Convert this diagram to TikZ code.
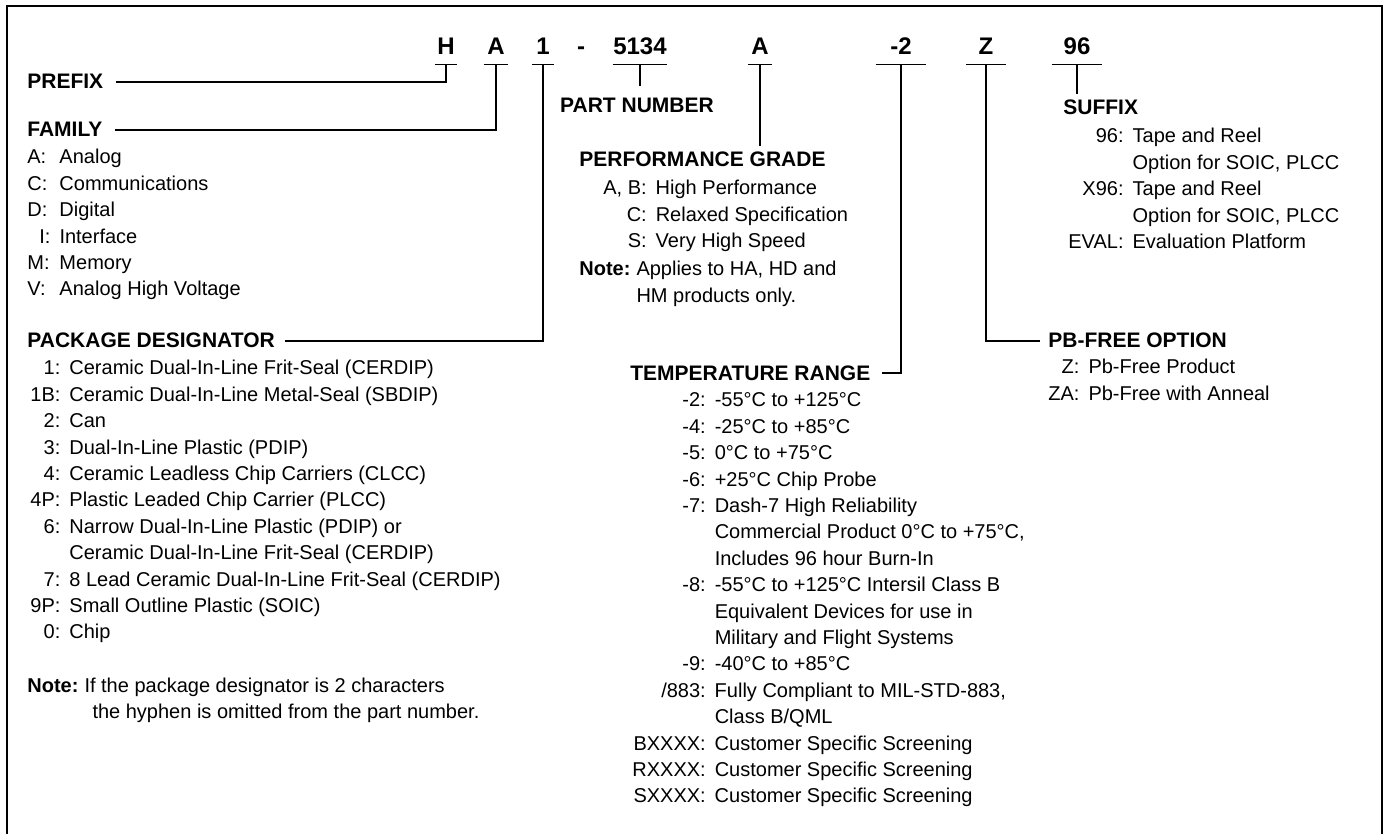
\documentclass[tikz,border=0pt]{standalone}
\usepackage{fontspec}
\setmainfont{Liberation Sans}

\begin{document}
\begin{tikzpicture}[x=0.5pt,y=-0.5pt,
  every node/.style={inner sep=0pt},
  frame/.style={line width=1.1pt},
  lead/.style={line width=0.85pt},
  code/.style={font=\fontsize{12}{14}\selectfont\bfseries,anchor=base,
    inner ysep=4.5pt,text depth=0pt},
  head/.style={font=\fontsize{10.5}{13}\selectfont\bfseries,anchor=base west},
  list/.style={font=\fontsize{10}{13.2}\selectfont,anchor=base west}]
\useasboundingbox (0,0) rectangle (1388,834);
\draw[frame] (7,834) -- (7,6) -- (1382,6) -- (1382,834);

% ordering code
\node[code,minimum width=11pt] (cH) at (446,55) {H};
\node[code,minimum width=12pt] (cA) at (496,55) {A};
\node[code,minimum width=10.5pt] (c1) at (543,55) {1};
\node[code] (cDash) at (581,55) {-};
\node[code,minimum width=27pt] (cNum) at (640,55) {5134};
\node[code,minimum width=11.5pt] (cGrade) at (760,55) {A};
\node[code,minimum width=25pt] (cTemp) at (901,55) {-2};
\node[code,minimum width=19.5pt] (cZ) at (986,55) {Z};
\node[code,minimum width=25pt] (cSfx) at (1077,55) {96};
\foreach \c in {cH,cA,c1,cNum,cGrade,cTemp,cZ,cSfx}
  \draw[lead] (\c.south west) -- (\c.south east);

% headings
\node[head] (prefix) at (27,89) {PREFIX};
\node[head] (family) at (27,137) {FAMILY};
\node[head] (pkg) at (27,348) {PACKAGE DESIGNATOR};
\node[head,anchor=base] (partnum) at (637,113) {PART NUMBER};
\node[head] (perf) at (579,167) {PERFORMANCE GRADE};
\node[head] (temp) at (630,380) {TEMPERATURE RANGE};
\node[head] (suffix) at (1063,115) {SUFFIX};
\node[head] (pbfree) at (1048,348) {PB-FREE OPTION};

% leaders
\draw[lead] ([xshift=6pt]prefix.east) -| (cH.south);
\draw[lead] ([xshift=6pt]family.east) -| (cA.south);
\draw[lead] ([xshift=5pt]pkg.east) -| (c1.south);
\draw[lead] (cNum.south) -- ([yshift=6pt]cNum.south |- partnum.north);
\draw[lead] (cGrade.south) -- ([yshift=3pt]cGrade.south |- perf.north);
\draw[lead] ([xshift=5.5pt]temp.east) -| (cTemp.south);
\draw[lead] (cZ.south) |- ([xshift=-4pt]pbfree.west);
\draw[lead] (cSfx.south) -- ([yshift=3pt]cSfx.south |- suffix.north);

% lists
\node[list] (famlist) at (27,164) {\begin{tabular}[t]{@{}l@{\hspace{4.5pt}}l@{}}
A: & Analog\\
C: & Communications\\
D: & Digital\\
\hspace*{6pt}I: & Interface\\
M: & Memory\\
V: & Analog High Voltage
\end{tabular}};
\node[list] (pkglist) at (30,375) {\begin{tabular}[t]{@{}r@{\hspace{4.5pt}}l@{}}
1: & Ceramic Dual-In-Line Frit-Seal (CERDIP)\\
1B: & Ceramic Dual-In-Line Metal-Seal (SBDIP)\\
2: & Can\\
3: & Dual-In-Line Plastic (PDIP)\\
4: & Ceramic Leadless Chip Carriers (CLCC)\\
4P: & Plastic Leaded Chip Carrier (PLCC)\\
6: & Narrow Dual-In-Line Plastic (PDIP) or\\
 & Ceramic Dual-In-Line Frit-Seal (CERDIP)\\
7: & 8 Lead Ceramic Dual-In-Line Frit-Seal (CERDIP)\\
9P: & Small Outline Plastic (SOIC)\\
0: & Chip
\end{tabular}};
\node[list] (pkgnote) at (27,692) {\begin{tabular}[t]{@{}l@{\hspace{3pt}}l@{}}
\textbf{Note:} & If the package designator is 2 characters\\
 & \hspace*{4pt}the hyphen is omitted from the part number.
\end{tabular}};
\node[list] (perflist) at (603,195) {\begin{tabular}[t]{@{}r@{\hspace{4.5pt}}l@{}}
A, B: & High Performance\\
C: & Relaxed Specification\\
S: & Very High Speed
\end{tabular}};
\node[list] (perfnote) at (579,276) {\begin{tabular}[t]{@{}l@{\hspace{3pt}}l@{}}
\textbf{Note:} & Applies to HA, HD and\\
 & HM products only.
\end{tabular}};
\node[list] (templist) at (632,407) {\begin{tabular}[t]{@{}r@{\hspace{4.5pt}}l@{}}
-2: & -55°C to +125°C\\
-4: & -25°C to +85°C\\
-5: & 0°C to +75°C\\
-6: & +25°C Chip Probe\\
-7: & Dash-7 High Reliability\\
 & Commercial Product 0°C to +75°C,\\
 & Includes 96 hour Burn-In\\
-8: & -55°C to +125°C Intersil Class B\\
 & Equivalent Devices for use in\\
 & Military and Flight Systems\\
-9: & -40°C to +85°C\\
/883: & Fully Compliant to MIL-STD-883,\\
 & Class B/QML\\
BXXXX: & Customer Specific Screening\\
RXXXX: & Customer Specific Screening\\
SXXXX: & Customer Specific Screening
\end{tabular}};
\node[list] (sfxlist) at (1068,143) {\begin{tabular}[t]{@{}r@{\hspace{4.5pt}}l@{}}
96: & Tape and Reel\\
 & Option for SOIC, PLCC\\
X96: & Tape and Reel\\
 & Option for SOIC, PLCC\\
EVAL: & Evaluation Platform
\end{tabular}};
\node[list] (pblist) at (1048,374) {\begin{tabular}[t]{@{}r@{\hspace{4.5pt}}l@{}}
Z: & Pb-Free Product\\
ZA: & Pb-Free with Anneal
\end{tabular}};
\end{tikzpicture}
\end{document}
